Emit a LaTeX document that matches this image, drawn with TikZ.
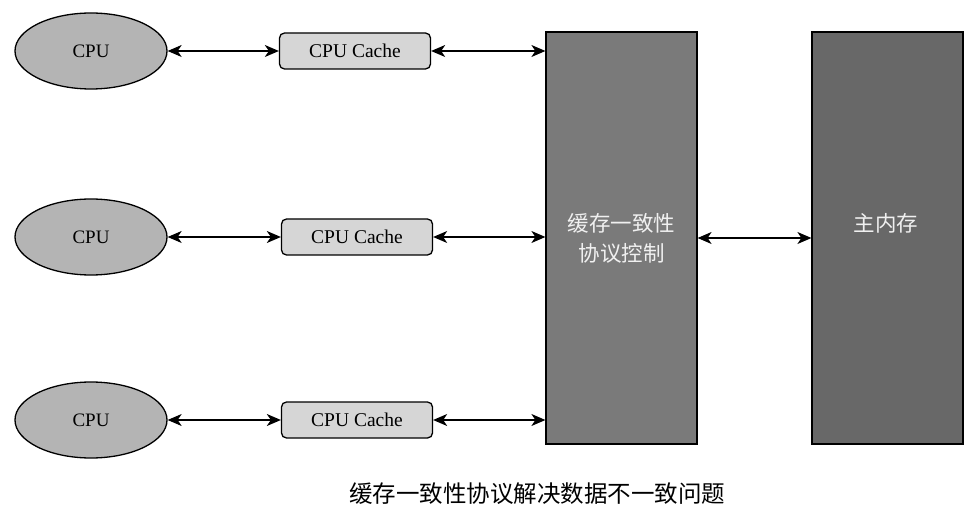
\documentclass[tikz,border=0pt]{standalone}
\usepackage{fontspec}
\setmainfont{Liberation Serif}
\newfontfamily\cjk{Noto Sans CJK SC}
\usetikzlibrary{arrows.meta,shapes.geometric}
\definecolor{cpufill}{RGB}{180,180,180}
\definecolor{cachefill}{RGB}{214,214,214}
\definecolor{ctlfill}{RGB}{122,122,122}
\definecolor{memfill}{RGB}{104,104,104}
\definecolor{boxtext}{RGB}{240,240,240}
\begin{document}
\begin{tikzpicture}[x=1pt,y=-1pt,
  cpu/.style={ellipse,draw=black,line width=1.3pt,fill=cpufill,minimum width=152pt,minimum height=76pt,inner sep=0pt,font=\fontsize{19}{22}\selectfont},
  cache/.style={rectangle,rounded corners=5pt,draw=black,line width=1.3pt,fill=cachefill,minimum width=151pt,minimum height=36pt,inner sep=0pt,font=\fontsize{19.5}{22}\selectfont},
  big/.style={rectangle,draw=black,line width=1.2pt,inner sep=0pt,minimum width=151pt,minimum height=412pt},
  bigtext/.style={text=boxtext,font=\cjk\fontsize{21.5}{30}\selectfont,align=center},
  link/.style={{Stealth[length=14pt,width=12pt,inset=4pt]}-{Stealth[length=14pt,width=12pt,inset=4pt]},line width=1.2pt}
]
\useasboundingbox (0,0) rectangle (977,521);
\fill[white] (0,0) rectangle (977,521);
\node[cpu] (cpu1) at (91,51) {CPU};
\node[cpu] (cpu2) at (91,237) {CPU};
\node[cpu] (cpu3) at (91,420) {CPU};
\node[cache] (c1) at (355,51) {CPU Cache};
\node[cache] (c2) at (357,237) {CPU Cache};
\node[cache] (c3) at (357,420) {CPU Cache};
\node[big,fill=ctlfill] (ctl) at (621.5,238) {};
\node[bigtext] (ctltxt) at (621.5,238) {缓存一致性\\协议控制};
\node[big,fill=memfill] (mem) at (887.5,238) {};
\node[bigtext] (memtxt) at (886,223) {主内存};
\draw[link] (cpu1.east) -- (c1.west);
\draw[link] (cpu2.east) -- (c2.west);
\draw[link] (cpu3.east) -- (c3.west);
\draw[link] (c1.east) -- (c1.east -| ctl.west);
\draw[link] (c2.east) -- (c2.east -| ctl.west);
\draw[link] (c3.east) -- (c3.east -| ctl.west);
\draw[link] (ctl.east |- 0,238) -- (mem.west |- 0,238);
\node[font=\cjk\fontsize{23.5}{26}\selectfont] (cap) at (537,494) {缓存一致性协议解决数据不一致问题};
\end{tikzpicture}
\end{document}
